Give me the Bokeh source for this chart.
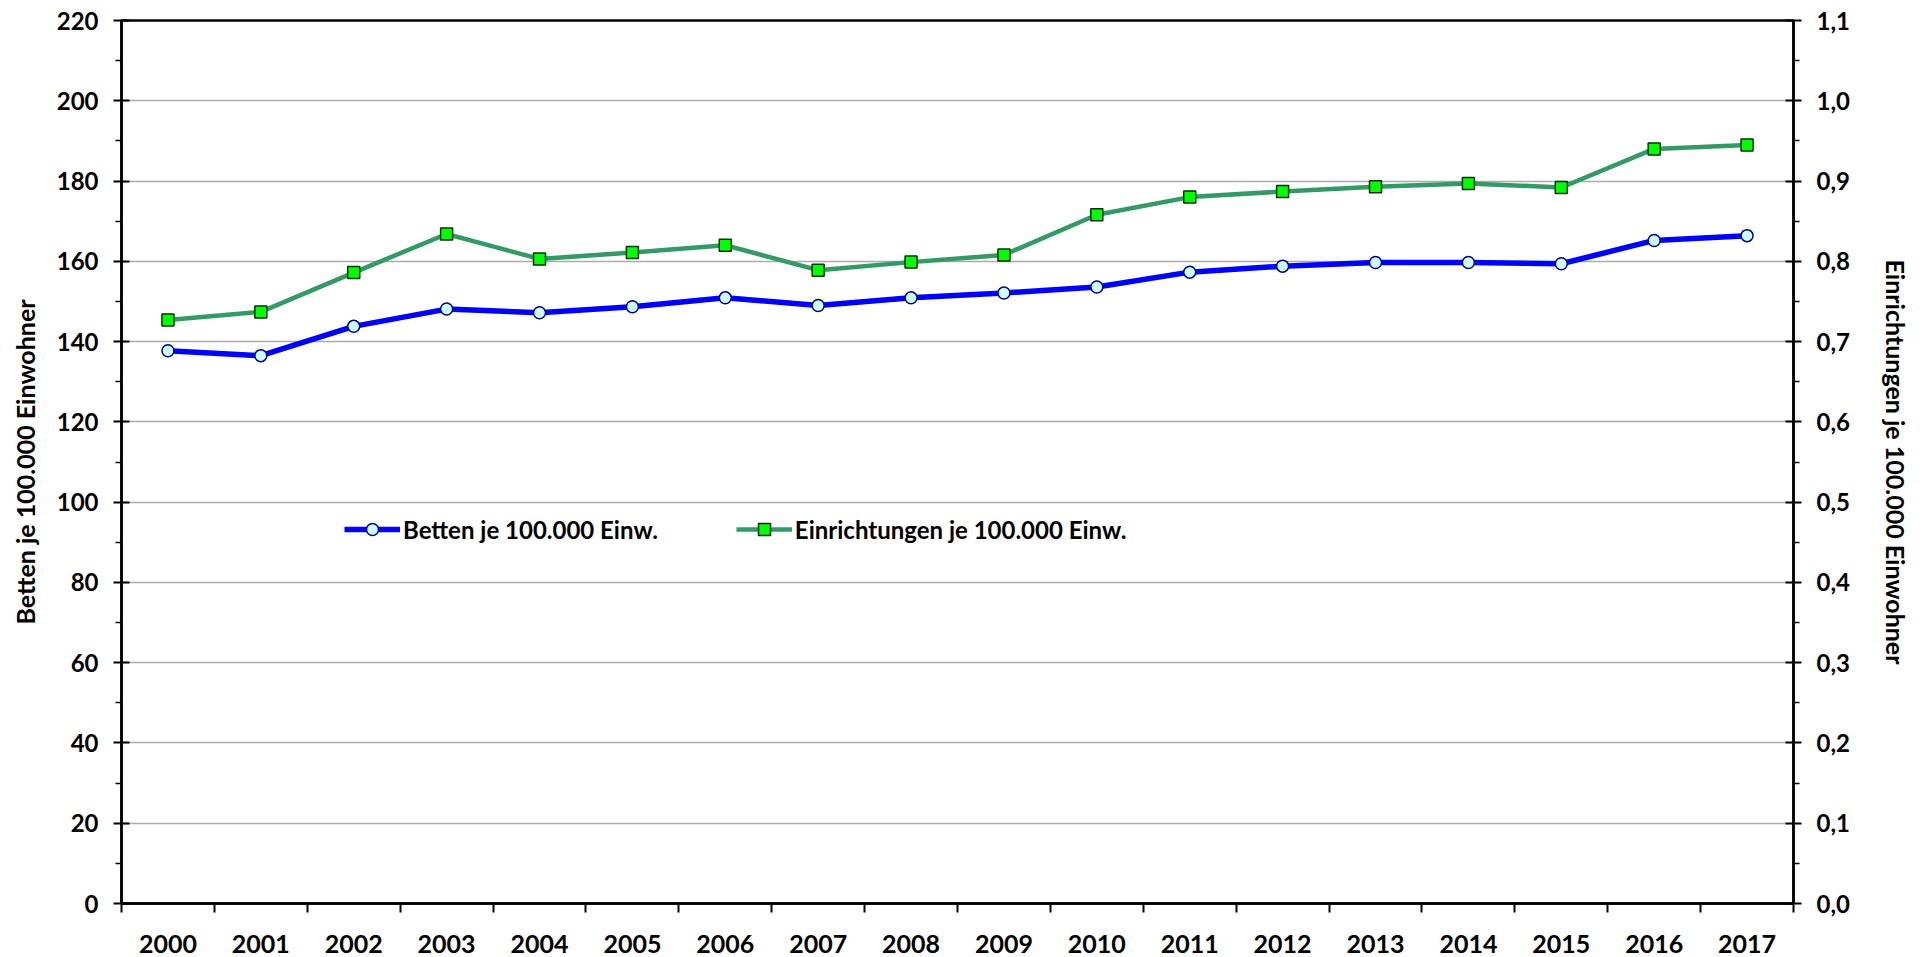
from bokeh.plotting import figure
from bokeh.models import (Range1d, LinearAxis, FixedTicker, CustomJSTickFormatter,
                          Legend, LegendItem)
from bokeh.embed import file_html
from bokeh.resources import INLINE

years = list(range(2000, 2018))
betten = [137.7, 136.5, 143.8, 148.1, 147.2, 148.7, 150.9, 149.0, 150.9, 152.1,
          153.6, 157.3, 158.8, 159.7, 159.7, 159.4, 165.2, 166.4]
einrichtungen = [0.727, 0.737, 0.786, 0.834, 0.803, 0.811, 0.820, 0.789, 0.799, 0.808,
                 0.858, 0.880, 0.887, 0.893, 0.897, 0.892, 0.940, 0.945]
left_ticks = list(range(0, 221, 20))
left_minor = list(range(10, 220, 20))
right_ticks = [round(i * 0.1, 1) for i in range(12)]
right_minor = [round(0.05 + i * 0.1, 2) for i in range(11)]
name_betten = "Betten je 100.000 Einw."
name_einr = "Einrichtungen je 100.000 Einw."
title_left = "Betten je 100.000 Einwohner"
title_right = "Einrichtungen je 100.000 Einwohner"

FONT = "Lato"

p = figure(width=1925, height=957, output_backend="svg", toolbar_location=None,
           x_range=Range1d(years[0] - 0.5, years[-1] + 0.5),
           y_range=Range1d(0, 220),
           min_border_left=121, min_border_right=132, min_border_top=20,
           min_border_bottom=54)
p.extra_y_ranges = {"right": Range1d(0, 1.1)}

p.outline_line_color = "black"
p.outline_line_width = 2.5
p.background_fill_color = "white"
p.border_fill_color = "white"

# x axis
xa = p.xaxis[0]
xa.ticker = FixedTicker(ticks=years, minor_ticks=[y - 0.5 for y in years] + [years[-1] + 0.5])
xa.major_tick_out = 0
xa.major_tick_in = 0
xa.minor_tick_out = 9
xa.minor_tick_in = 0
xa.minor_tick_line_color = "black"
xa.minor_tick_line_width = 2
xa.axis_line_color = "black"
xa.axis_line_width = 2.5
xa.major_label_text_font = FONT
xa.major_label_text_font_style = "bold"
xa.major_label_text_font_size = "25px"
xa.major_label_text_color = "black"
xa.major_label_standoff = 22
p.xgrid.grid_line_color = None

# left axis
ya = p.yaxis[0]
ya.ticker = FixedTicker(ticks=left_ticks, minor_ticks=left_minor)
ya.major_tick_out = 8
ya.major_tick_in = 8
ya.minor_tick_out = 6
ya.minor_tick_in = 0
ya.major_tick_line_width = 2
ya.minor_tick_line_width = 1.5
ya.major_tick_line_color = "black"
ya.minor_tick_line_color = "black"
ya.axis_line_color = "black"
ya.axis_line_width = 2.5
ya.major_label_text_font = FONT
ya.major_label_text_font_style = "bold"
ya.major_label_text_font_size = "24px"
ya.major_label_text_color = "black"
ya.major_label_standoff = 15
ya.axis_label = title_left
ya.axis_label_text_font = FONT
ya.axis_label_text_font_style = "bold"
ya.axis_label_text_font_size = "25px"
ya.axis_label_text_color = "black"
ya.axis_label_standoff = 14
p.ygrid.ticker = FixedTicker(ticks=left_ticks)
p.ygrid.grid_line_color = "#ababab"
p.ygrid.grid_line_width = 1.5

# right axis
ra = LinearAxis(y_range_name="right")
ra.ticker = FixedTicker(ticks=right_ticks, minor_ticks=right_minor)
ra.formatter = CustomJSTickFormatter(code="return tick.toFixed(1).replace('.', ',');")
ra.major_tick_out = 8
ra.major_tick_in = 8
ra.minor_tick_out = 6
ra.minor_tick_in = 0
ra.major_tick_line_width = 2
ra.minor_tick_line_width = 1.5
ra.major_tick_line_color = "black"
ra.minor_tick_line_color = "black"
ra.axis_line_color = "black"
ra.axis_line_width = 2.5
ra.major_label_text_font = FONT
ra.major_label_text_font_style = "bold"
ra.major_label_text_font_size = "24px"
ra.major_label_text_color = "black"
ra.major_label_standoff = 15
ra.axis_label = title_right
ra.axis_label_text_font = FONT
ra.axis_label_text_font_style = "bold"
ra.axis_label_text_font_size = "25px"
ra.axis_label_text_color = "black"
ra.axis_label_standoff = 28
p.add_layout(ra, "right")

# series
l1 = p.line(years, betten, line_color="#0000FF", line_width=5.5)
s1 = p.scatter(years, betten, marker="circle", size=12, fill_color="#CCFFFF",
               line_color="#000080", line_width=1.5)
l2 = p.line(years, einrichtungen, line_color="#339966", line_width=4.5, y_range_name="right")
s2 = p.scatter(years, einrichtungen, marker="square", size=12, fill_color="#00FF00",
               line_color="#003300", line_width=1.5, y_range_name="right")

legend = Legend(items=[LegendItem(label=name_betten, renderers=[l1, s1]),
                       LegendItem(label=name_einr, renderers=[l2, s2])],
                orientation="horizontal", location=(223, 359),
                padding=0, margin=0, spacing=78,
                glyph_width=56, glyph_height=30, label_height=30, label_standoff=3,
                label_text_font=FONT, label_text_font_style="bold",
                label_text_font_size="24px", label_text_color="black",
                border_line_color=None, background_fill_alpha=0)
p.add_layout(legend, "center")

open("out.html", "w").write(file_html(p, INLINE))
